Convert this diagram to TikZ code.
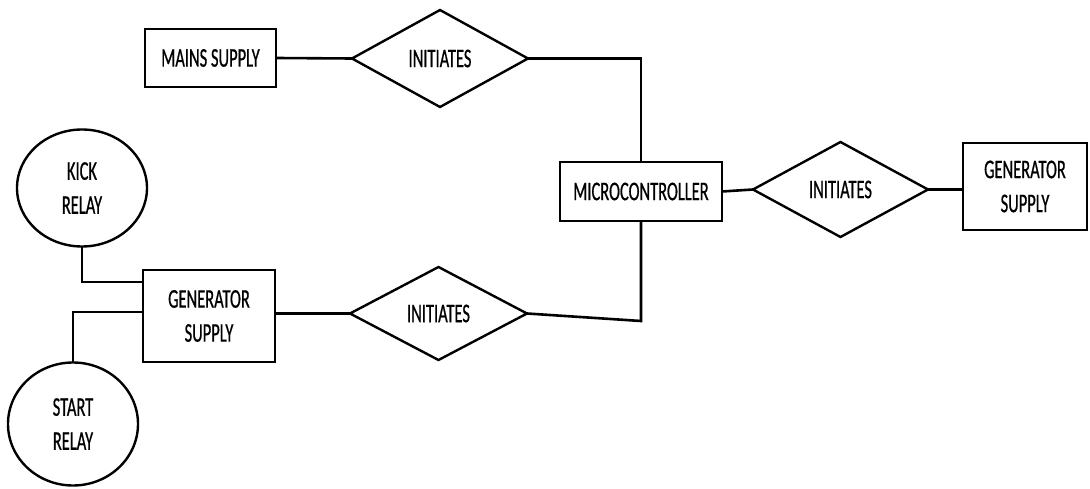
\documentclass[tikz,border=0pt]{standalone}
\usepackage{fontspec}
\newfontfamily\labfont[FakeStretch=0.61,FakeBold=0.6]{Carlito}
\usetikzlibrary{shapes.geometric}
\begin{document}
\begin{tikzpicture}[x=1pt,y=-1pt,
  every node/.style={font=\labfont\fontsize{27}{34}\selectfont, align=center, inner sep=0pt, outer sep=0pt, line width=2.4pt},
  entitybox/.style={draw, rectangle},
  relbox/.style={draw, diamond},
  attrbox/.style={draw, ellipse},
  conn/.style={line width=2.6pt}]
\useasboundingbox (0,0) rectangle (1090,489);
\fill[white] (0,0) rectangle (1090,489);
\node[entitybox, minimum width=131pt, minimum height=58pt] (mains) at (210.5,58) {MAINS SUPPLY};
\node[relbox, minimum width=176pt, minimum height=97pt] (d1) at (440,58.5) {INITIATES};
\node[entitybox, minimum width=162pt, minimum height=59pt] (mic) at (641,191.5) {MICROCONTROLLER};
\node[relbox, minimum width=175pt, minimum height=95pt] (d2) at (840.5,189.5) {INITIATES};
\node[entitybox, minimum width=124pt, minimum height=87pt] (genr) at (1025,186.5) {GENERATOR\\SUPPLY};
\node[relbox, minimum width=177pt, minimum height=93pt] (d3) at (438.5,313.5) {INITIATES};
\node[entitybox, minimum width=132pt, minimum height=92pt] (genl) at (209,316) {GENERATOR\\SUPPLY};
\node[attrbox, minimum width=130pt, minimum height=117pt] (kick) at (82,188) {KICK\\RELAY};
\node[attrbox, minimum width=130pt, minimum height=123pt] (start) at (73,424) {START\\RELAY};
\coordinate (kj) at (143,282);
\coordinate (sj) at (143,312);
\coordinate (mj) at (641,321);
\draw[conn] (mains.east) -- (d1.west);
\draw[conn] (d1.east) -| (mic.north);
\draw[conn] (mic.east) -- (d2.west);
\draw[conn] (d2.east) -- (d2.east -| genr.west);
\draw[conn] (mic.south) -- (mj) -- (d3.east);
\draw[conn] (d3.west) -- (d3.west -| genl.east);
\draw[conn] (kick.south) |- (kj);
\draw[conn] (sj) -| (start.north);
\end{tikzpicture}
\end{document}
